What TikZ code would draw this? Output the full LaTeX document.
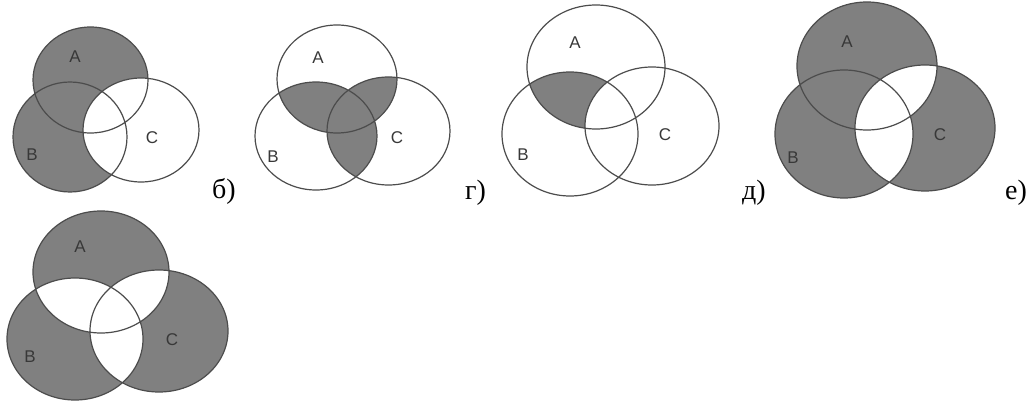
\documentclass[tikz,border=0pt]{standalone}
\usepackage{fontspec}
\setmainfont{Liberation Serif}
\setsansfont{Liberation Sans}

\begin{document}
\begin{tikzpicture}[
  x=1pt, y=-1pt,
  rim/.style={draw=black!70, line width=1.2pt},
  shd/.style={fill=black!50},
  blank/.style={fill=white},
  setlbl/.style={font=\sffamily\fontsize{17}{17}\selectfont, text=black!78, inner sep=0pt},
  caplbl/.style={font=\fontsize{28}{28}\selectfont, anchor=base west, inner sep=0pt}]
\useasboundingbox (0,0) rectangle (1031,401);

% centres of the sets
\coordinate (A1) at (90.5,80);  \coordinate (B1) at (70,137);  \coordinate (C1) at (141,130);
\coordinate (A2) at (337,79);   \coordinate (B2) at (316,136); \coordinate (C2) at (388.5,131);
\coordinate (A3) at (596,67);   \coordinate (B3) at (570,134); \coordinate (C3) at (652,126);
\coordinate (A4) at (867,66);   \coordinate (B4) at (844,134); \coordinate (C4) at (925,128);
\coordinate (A5) at (101,272);  \coordinate (B5) at (75,339);  \coordinate (C5) at (159,331);

% (A u B) \ C
\fill[shd] (A1) ellipse [x radius=57.5, y radius=53] (B1) ellipse [x radius=57, y radius=55];
\fill[blank] (C1) ellipse [x radius=58, y radius=52];
\draw[rim] (A1) ellipse [x radius=57.5, y radius=53] (B1) ellipse [x radius=57, y radius=55]
  (C1) ellipse [x radius=58, y radius=52];

% pairwise intersections
\begin{scope}
  \clip (A2) ellipse [x radius=60, y radius=54];
  \fill[shd] (B2) ellipse [x radius=61, y radius=54] (C2) ellipse [x radius=61.5, y radius=54];
\end{scope}
\begin{scope}
  \clip (B2) ellipse [x radius=61, y radius=54];
  \fill[shd] (C2) ellipse [x radius=61.5, y radius=54];
\end{scope}
\draw[rim] (A2) ellipse [x radius=60, y radius=54] (B2) ellipse [x radius=61, y radius=54]
  (C2) ellipse [x radius=61.5, y radius=54];

% (A n B) \ C
\begin{scope}
  \clip (A3) ellipse [x radius=69, y radius=62];
  \fill[shd] (B3) ellipse [x radius=68, y radius=62];
\end{scope}
\fill[blank] (C3) ellipse [x radius=67, y radius=59];
\draw[rim] (A3) ellipse [x radius=69, y radius=62] (B3) ellipse [x radius=68, y radius=62]
  (C3) ellipse [x radius=67, y radius=59];

% (A u B) xor C
\fill[shd] (A4) ellipse [x radius=70, y radius=64] (B4) ellipse [x radius=69, y radius=64]
  (C4) ellipse [x radius=70, y radius=63];
\begin{scope}
  \clip (C4) ellipse [x radius=70, y radius=63];
  \fill[blank] (A4) ellipse [x radius=70, y radius=64] (B4) ellipse [x radius=69, y radius=64];
\end{scope}
\draw[rim] (A4) ellipse [x radius=70, y radius=64] (B4) ellipse [x radius=69, y radius=64]
  (C4) ellipse [x radius=70, y radius=63];

% exactly one set
\fill[shd] (A5) ellipse [x radius=68, y radius=61] (B5) ellipse [x radius=68, y radius=61]
  (C5) ellipse [x radius=69, y radius=61];
\begin{scope}
  \clip (A5) ellipse [x radius=68, y radius=61];
  \fill[blank] (B5) ellipse [x radius=68, y radius=61] (C5) ellipse [x radius=69, y radius=61];
\end{scope}
\begin{scope}
  \clip (B5) ellipse [x radius=68, y radius=61];
  \fill[blank] (C5) ellipse [x radius=69, y radius=61];
\end{scope}
\draw[rim] (A5) ellipse [x radius=68, y radius=61] (B5) ellipse [x radius=68, y radius=61]
  (C5) ellipse [x radius=69, y radius=61];

% set names
\node[setlbl] (a1) at (75,57) {A};   \node[setlbl] (b1) at (32,155) {B};  \node[setlbl] (c1) at (152,138) {C};
\node[setlbl] (a2) at (318,58) {A};  \node[setlbl] (b2) at (273,157) {B}; \node[setlbl] (c2) at (397,138) {C};
\node[setlbl] (a3) at (575,43) {A};  \node[setlbl] (b3) at (523,155) {B}; \node[setlbl] (c3) at (665,135) {C};
\node[setlbl] (a4) at (847,42) {A};  \node[setlbl] (b4) at (793,158) {B}; \node[setlbl] (c4) at (940,135) {C};
\node[setlbl] (a5) at (80,247) {A};  \node[setlbl] (b5) at (30,357) {B};  \node[setlbl] (c5) at (172,340) {C};

% captions
\node[caplbl] (capb) at (212,198) {б)};
\node[caplbl] (capg) at (465,199) {г)};
\node[caplbl] (capd) at (742,199) {д)};
\node[caplbl] (cape) at (1005,199) {е)};
\end{tikzpicture}
\end{document}
